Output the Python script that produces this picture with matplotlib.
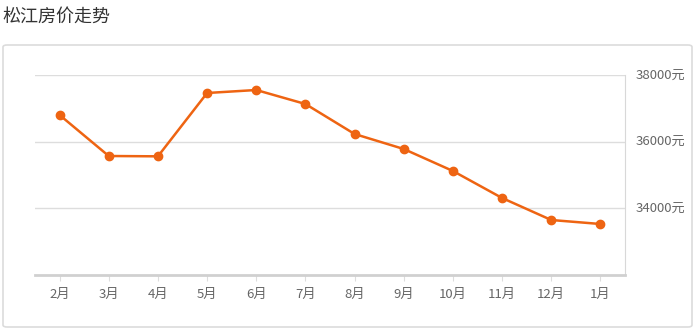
import matplotlib
matplotlib.use('Agg')
import matplotlib.pyplot as plt
from matplotlib.patches import FancyBboxPatch

plt.rcParams['font.family'] = ['Noto Sans CJK SC', 'DejaVu Sans']

# 数据
months = ['2月', '3月', '4月', '5月', '6月', '7月', '8月', '9月', '10月', '11月', '12月', '1月']
prices = [36800, 35570, 35560, 37460, 37550, 37130, 36230, 35780, 35120, 34310, 33650, 33530]
yticks = [34000, 36000, 38000]
ytick_labels = ['34000元', '36000元', '38000元']

line_color = '#ee6412'

fig = plt.figure(figsize=(6.96, 3.33), dpi=100)

# 外框
card = FancyBboxPatch((3 / 696, 6 / 333), 689 / 696, 282 / 333,
                      boxstyle='round,pad=0,rounding_size=0.006',
                      transform=fig.transFigure, fill=False,
                      edgecolor='#dcdcdc', linewidth=1.2)
fig.patches.append(card)

fig.text(2 / 696, 1 - 17 / 333, '松江房价走势', fontsize=13, color='#333333',
         va='center', ha='left')

ax = fig.add_axes([35 / 696, 1 - 275 / 333, 590 / 696, 200 / 333])
x = range(len(months))
ax.plot(x, prices, color=line_color, linewidth=1.8, marker='o',
        markersize=6, zorder=3)

ax.set_xlim(-0.5, len(months) - 0.5)
ax.set_ylim(32000, 38000)
ax.set_xticks(list(x))
ax.set_xticklabels(months)
ax.set_yticks(yticks)
ax.set_yticklabels(ytick_labels)
ax.yaxis.tick_right()

ax.grid(axis='y', color='#dddddd', linewidth=1)
ax.set_axisbelow(True)
for s in ['top', 'left']:
    ax.spines[s].set_visible(False)
ax.spines['right'].set_color('#d8d8d8')
ax.spines['bottom'].set_color('#d0d0d0')
ax.spines['bottom'].set_linewidth(2)

ax.tick_params(axis='x', colors='#dddddd', length=4, labelcolor='#666666',
               labelsize=9.5, pad=5)
ax.tick_params(axis='y', length=0, labelcolor='#666666', labelsize=9.5, pad=8)
for lab in ax.get_yticklabels():
    lab.set_verticalalignment('center')

fig.savefig('out.png', dpi=100)
